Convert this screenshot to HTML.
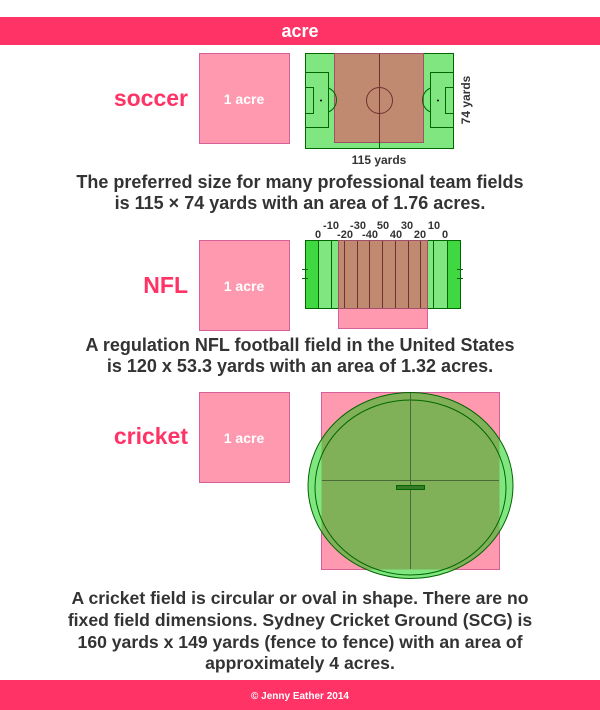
<!DOCTYPE html>
<html><head><meta charset="utf-8"><style>
body{margin:0;width:600px;height:710px;overflow:hidden;background:#fff}
svg{display:block}
text{font-family:"Liberation Sans",sans-serif;font-weight:bold}
</style></head><body>
<svg width="600" height="710" viewBox="0 0 600 710">
<rect x="0" y="17" width="600" height="28" fill="#ff3366"/>
<text x="300" y="37" font-size="18" fill="#fff" text-anchor="middle">acre</text>

<!-- soccer -->
<text x="188" y="106" font-size="23" fill="#ff3366" text-anchor="end">soccer</text>
<rect x="199.5" y="53.5" width="90" height="90" fill="#ff99b0" stroke="#d6609a"/>
<text x="244" y="104" font-size="14" fill="#fff" text-anchor="middle">1 acre</text>
<rect x="305.5" y="53.5" width="148" height="95" fill="#80e680" stroke="#006600"/>
<rect x="334.5" y="53.5" width="89" height="89" fill="#c08a70" stroke="#a0506a"/>
<g stroke="#006600" fill="none">
<rect x="305.5" y="72.5" width="23" height="55"/>
<rect x="305.5" y="87.5" width="8" height="26"/>
<rect x="430.5" y="72.5" width="23" height="55"/>
<rect x="445.5" y="87.5" width="8" height="26"/>
<path d="M328.5 88 A13 13 0 0 1 328.5 112"/>
<path d="M430.5 88 A13 13 0 0 0 430.5 112"/>
<line x1="379.5" y1="142" x2="379.5" y2="148"/>
</g>
<g stroke="#703030" fill="none">
<line x1="379.5" y1="54" x2="379.5" y2="142"/>
<circle cx="379.5" cy="100.5" r="13"/>
</g>
<circle cx="321" cy="100.5" r="1" fill="#000"/>
<circle cx="438" cy="100.5" r="1" fill="#000"/>
<text x="379" y="164" font-size="12" fill="#333" text-anchor="middle">115 yards</text>
<text transform="translate(470,100) rotate(-90)" font-size="12" fill="#333" text-anchor="middle">74 yards</text>
<text x="300" y="188" font-size="18" fill="#333" text-anchor="middle">The preferred size for many professional team fields</text>
<text x="300" y="209" font-size="18" fill="#333" text-anchor="middle">is 115 × 74 yards with an area of 1.76 acres.</text>

<!-- NFL -->
<text x="188" y="293" font-size="23" fill="#ff3366" text-anchor="end">NFL</text>
<rect x="199.5" y="240.5" width="90" height="90" fill="#ff99b0" stroke="#d6609a"/>
<text x="244" y="291" font-size="14" fill="#fff" text-anchor="middle">1 acre</text>
<rect x="338.5" y="240.5" width="89" height="88" fill="#ff99b0" stroke="#d6609a"/>
<rect x="305.5" y="240.5" width="155" height="68" fill="#80e680" stroke="#006600"/>
<rect x="305.5" y="240.5" width="13" height="68" fill="#40d840" stroke="#006600"/>
<rect x="447.5" y="240.5" width="13" height="68" fill="#40d840" stroke="#006600"/>
<line x1="331.5" y1="241" x2="331.5" y2="308" stroke="#006600"/>
<line x1="433.5" y1="241" x2="433.5" y2="308" stroke="#006600"/>
<rect x="338.5" y="240.5" width="89" height="68" fill="#c08a70" stroke="#a0506a"/>
<g stroke="#703030">
<line x1="344.5" y1="241" x2="344.5" y2="308"/><line x1="357.5" y1="241" x2="357.5" y2="308"/>
<line x1="369.5" y1="241" x2="369.5" y2="308"/><line x1="382.5" y1="241" x2="382.5" y2="308"/>
<line x1="395.5" y1="241" x2="395.5" y2="308"/><line x1="408.5" y1="241" x2="408.5" y2="308"/>
<line x1="420.5" y1="241" x2="420.5" y2="308"/>
</g>
<g stroke="#006600"><line x1="302" y1="269.5" x2="308" y2="269.5"/><line x1="302" y1="278.5" x2="308" y2="278.5"/>
<line x1="457" y1="269.5" x2="463" y2="269.5"/><line x1="457" y1="278.5" x2="463" y2="278.5"/></g>
<g font-size="11" fill="#333" text-anchor="middle">
<text x="331" y="229">-10</text><text x="358" y="229">-30</text><text x="383" y="229">50</text><text x="407" y="229">30</text><text x="434" y="229">10</text>
<text x="318" y="238">0</text><text x="345" y="238">-20</text><text x="370" y="238">-40</text><text x="396" y="238">40</text><text x="420" y="238">20</text><text x="445" y="238">0</text>
</g>
<text x="300" y="351" font-size="18" fill="#333" text-anchor="middle">A regulation NFL football field in the United States</text>
<text x="300" y="372" font-size="18" fill="#333" text-anchor="middle">is 120 x 53.3 yards with an area of 1.32 acres.</text>

<!-- cricket -->
<text x="188" y="444" font-size="23" fill="#ff3366" text-anchor="end">cricket</text>
<rect x="199.5" y="392.5" width="90" height="90" fill="#ff99b0" stroke="#d6609a"/>
<text x="244" y="443" font-size="14" fill="#fff" text-anchor="middle">1 acre</text>
<defs><clipPath id="c"><ellipse cx="410.5" cy="485.5" rx="102.5" ry="93"/></clipPath></defs>
<rect x="321.5" y="392.5" width="178" height="177" fill="#ff99b0" stroke="#d6609a"/>
<ellipse cx="410.5" cy="485.5" rx="102.5" ry="93" fill="#80e680"/>
<rect x="321.5" y="392.5" width="178" height="177" fill="#80b058" clip-path="url(#c)"/>
<ellipse cx="410.5" cy="485.5" rx="102.5" ry="93" fill="none" stroke="#006600"/>
<ellipse cx="410.5" cy="487.5" rx="95.5" ry="87.5" fill="none" stroke="#006600"/>
<g stroke="#4a6a3a"><line x1="410.5" y1="393" x2="410.5" y2="569"/><line x1="322" y1="480.5" x2="499" y2="480.5"/></g>
<rect x="396.5" y="485.5" width="28" height="4" fill="#3a7a2a" stroke="#006600"/>
<g font-size="17.6" fill="#333" text-anchor="middle">
<text x="300" y="604">A cricket field is circular or oval in shape. There are no</text>
<text x="300" y="626">fixed field dimensions. Sydney Cricket Ground (SCG) is</text>
<text x="300" y="648">160 yards x 149 yards (fence to fence) with an area of</text>
<text x="300" y="669">approximately 4 acres.</text>
</g>

<rect x="0" y="680" width="600" height="30" fill="#ff3366"/>
<text x="300" y="699" font-size="10" fill="#fff" text-anchor="middle">© Jenny Eather 2014</text>
</svg>
</body></html>
